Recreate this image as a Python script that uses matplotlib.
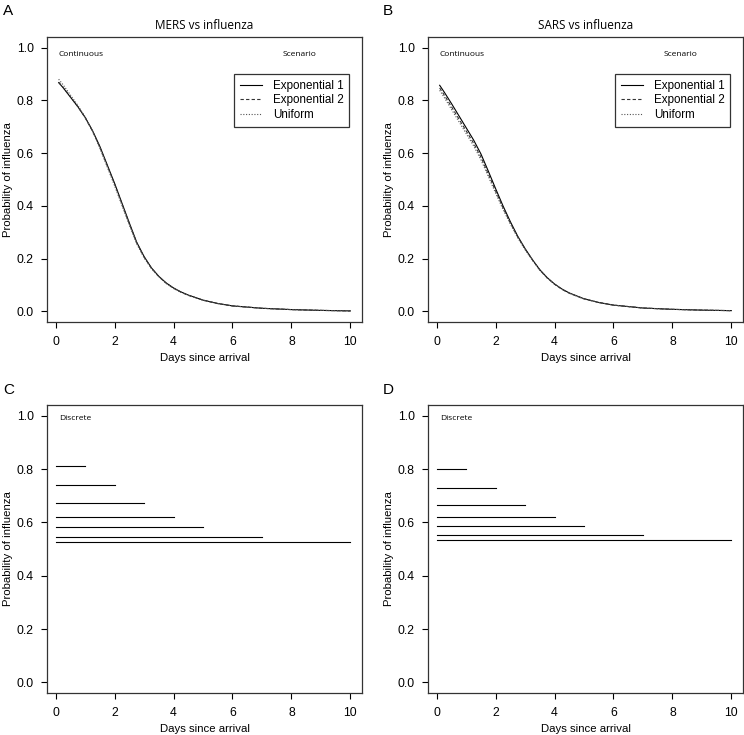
import matplotlib
matplotlib.use("Agg")
import matplotlib.pyplot as plt

# ---- data ----
days = [0.1, 0.25, 0.5, 0.75, 1.0, 1.25, 1.5, 1.75, 2.0, 2.25, 2.5, 2.75, 3.0, 3.25, 3.5, 3.75,
        4.0, 4.25, 4.5, 5.0, 5.5, 6.0, 7.0, 8.0, 9.0, 10.0]

mers_exp1 = [0.867, 0.848, 0.812, 0.776, 0.735, 0.685, 0.625, 0.555, 0.485, 0.410, 0.335, 0.262, 0.208, 0.165, 0.133, 0.108,
             0.089, 0.074, 0.062, 0.043, 0.030, 0.021, 0.012, 0.007, 0.004, 0.002]
mers_exp2 = [0.869, 0.849, 0.813, 0.776, 0.734, 0.683, 0.622, 0.552, 0.482, 0.407, 0.332, 0.260, 0.206, 0.164, 0.132, 0.107,
             0.088, 0.073, 0.061, 0.043, 0.030, 0.021, 0.012, 0.007, 0.004, 0.002]
mers_unif = [0.880, 0.859, 0.820, 0.781, 0.737, 0.683, 0.618, 0.547, 0.476, 0.401, 0.327, 0.256, 0.203, 0.162, 0.131, 0.106,
             0.087, 0.073, 0.061, 0.042, 0.030, 0.021, 0.012, 0.007, 0.004, 0.002]

sars_exp1 = [0.857, 0.832, 0.788, 0.742, 0.696, 0.650, 0.597, 0.532, 0.465, 0.400, 0.340, 0.285, 0.238, 0.196, 0.158, 0.128,
             0.104, 0.085, 0.070, 0.048, 0.034, 0.024, 0.013, 0.008, 0.005, 0.003]
sars_exp2 = [0.847, 0.821, 0.776, 0.730, 0.684, 0.638, 0.585, 0.521, 0.456, 0.393, 0.335, 0.282, 0.236, 0.195, 0.157, 0.127,
             0.103, 0.084, 0.069, 0.048, 0.034, 0.024, 0.013, 0.008, 0.005, 0.003]
sars_unif = [0.838, 0.812, 0.766, 0.720, 0.674, 0.628, 0.575, 0.512, 0.448, 0.387, 0.331, 0.279, 0.234, 0.194, 0.156, 0.127,
             0.103, 0.084, 0.069, 0.047, 0.034, 0.024, 0.013, 0.008, 0.005, 0.003]

disc_end = [1, 2, 3, 4, 5, 7, 10]
mers_disc = [0.810, 0.740, 0.671, 0.620, 0.583, 0.546, 0.527]
sars_disc = [0.800, 0.728, 0.664, 0.620, 0.587, 0.553, 0.533]

series_names = ["Exponential 1", "Exponential 2", "Uniform"]
x_ticks = [0, 2, 4, 6, 8, 10]
y_ticks = [0.0, 0.2, 0.4, 0.6, 0.8, 1.0]

# ---- layout ----
W, H = 744, 735
fig = plt.figure(figsize=(W / 100, H / 100), dpi=100)

tick_font = "Liberation Sans"
note_font = "Open Sans"

def px_axes(left, top, right, bottom):
    return fig.add_axes([left / W, 1 - bottom / H, (right - left) / W, (bottom - top) / H])

def style(ax):
    ax.set_xlim(-0.296, 10.396)
    ax.set_ylim(-0.04, 1.04)
    ax.set_xticks(x_ticks)
    ax.set_yticks(y_ticks)
    ax.set_xticklabels([str(t) for t in x_ticks], fontfamily=tick_font, fontsize=8.8)
    ax.set_yticklabels(["%.1f" % t for t in y_ticks], fontfamily=tick_font, fontsize=8.8)
    ax.tick_params(direction="out", length=4.5, width=0.8, colors="black")
    ax.tick_params(axis="x", pad=5.5)
    ax.tick_params(axis="y", pad=5)
    for s in ax.spines.values():
        s.set_linewidth(0.9)
        s.set_color("#333333")
    ax.set_xlabel("Days since arrival", fontfamily=tick_font, fontsize=8.2, labelpad=4)
    ax.set_ylabel("Probability of influenza", fontfamily=tick_font, fontsize=8.2, labelpad=3)

axA = px_axes(47, 37, 362, 322)
axB = px_axes(428, 37, 743, 322)
axC = px_axes(47, 405, 362, 693)
axD = px_axes(428, 405, 743, 693)

lw = 0.8
for ax, e1, e2, u, title in [(axA, mers_exp1, mers_exp2, mers_unif, "MERS vs influenza"),
                             (axB, sars_exp1, sars_exp2, sars_unif, "SARS vs influenza")]:
    ax.plot(days, e1, color="black", lw=lw, ls="-", label=series_names[0])
    ax.plot(days, e2, color="#333333", lw=lw, ls=(0, (3, 2)), label=series_names[1])
    ax.plot(days, u, color="#555555", lw=lw, ls=(0, (1, 1.5)), label=series_names[2])
    style(ax)
    ax.set_title(title, fontfamily=note_font, fontsize=8.5, pad=6)
    ax.text(0.1, 0.972, "Continuous", fontfamily=note_font, fontsize=6, va="center", ha="left")
    ax.text(7.7, 0.972, "Scenario", fontfamily=note_font, fontsize=6, va="center", ha="left")
    leg = ax.legend(loc="upper right", bbox_to_anchor=(0.96, 0.87), frameon=True, fancybox=False,
                    edgecolor="black", prop={"family": tick_font, "size": 8.4},
                    handlelength=1.9, handletextpad=0.9, borderpad=0.5, labelspacing=0.22,
                    borderaxespad=0)
    leg.get_frame().set_linewidth(0.9)

for ax, vals in [(axC, mers_disc), (axD, sars_disc)]:
    for end, v in zip(disc_end, vals):
        ax.plot([0, end], [v, v], color="black", lw=lw)
    style(ax)
    ax.text(0.1, 0.99, "Discrete", fontfamily=note_font, fontsize=6, va="center", ha="left")

for lab, x, y in [("A", 3, 11), ("B", 383, 11), ("C", 3, 390), ("D", 383, 390)]:
    fig.text(x / W, 1 - y / H, lab, fontfamily=tick_font, fontsize=11, va="center", ha="left")

fig.savefig("out.png", dpi=100)
